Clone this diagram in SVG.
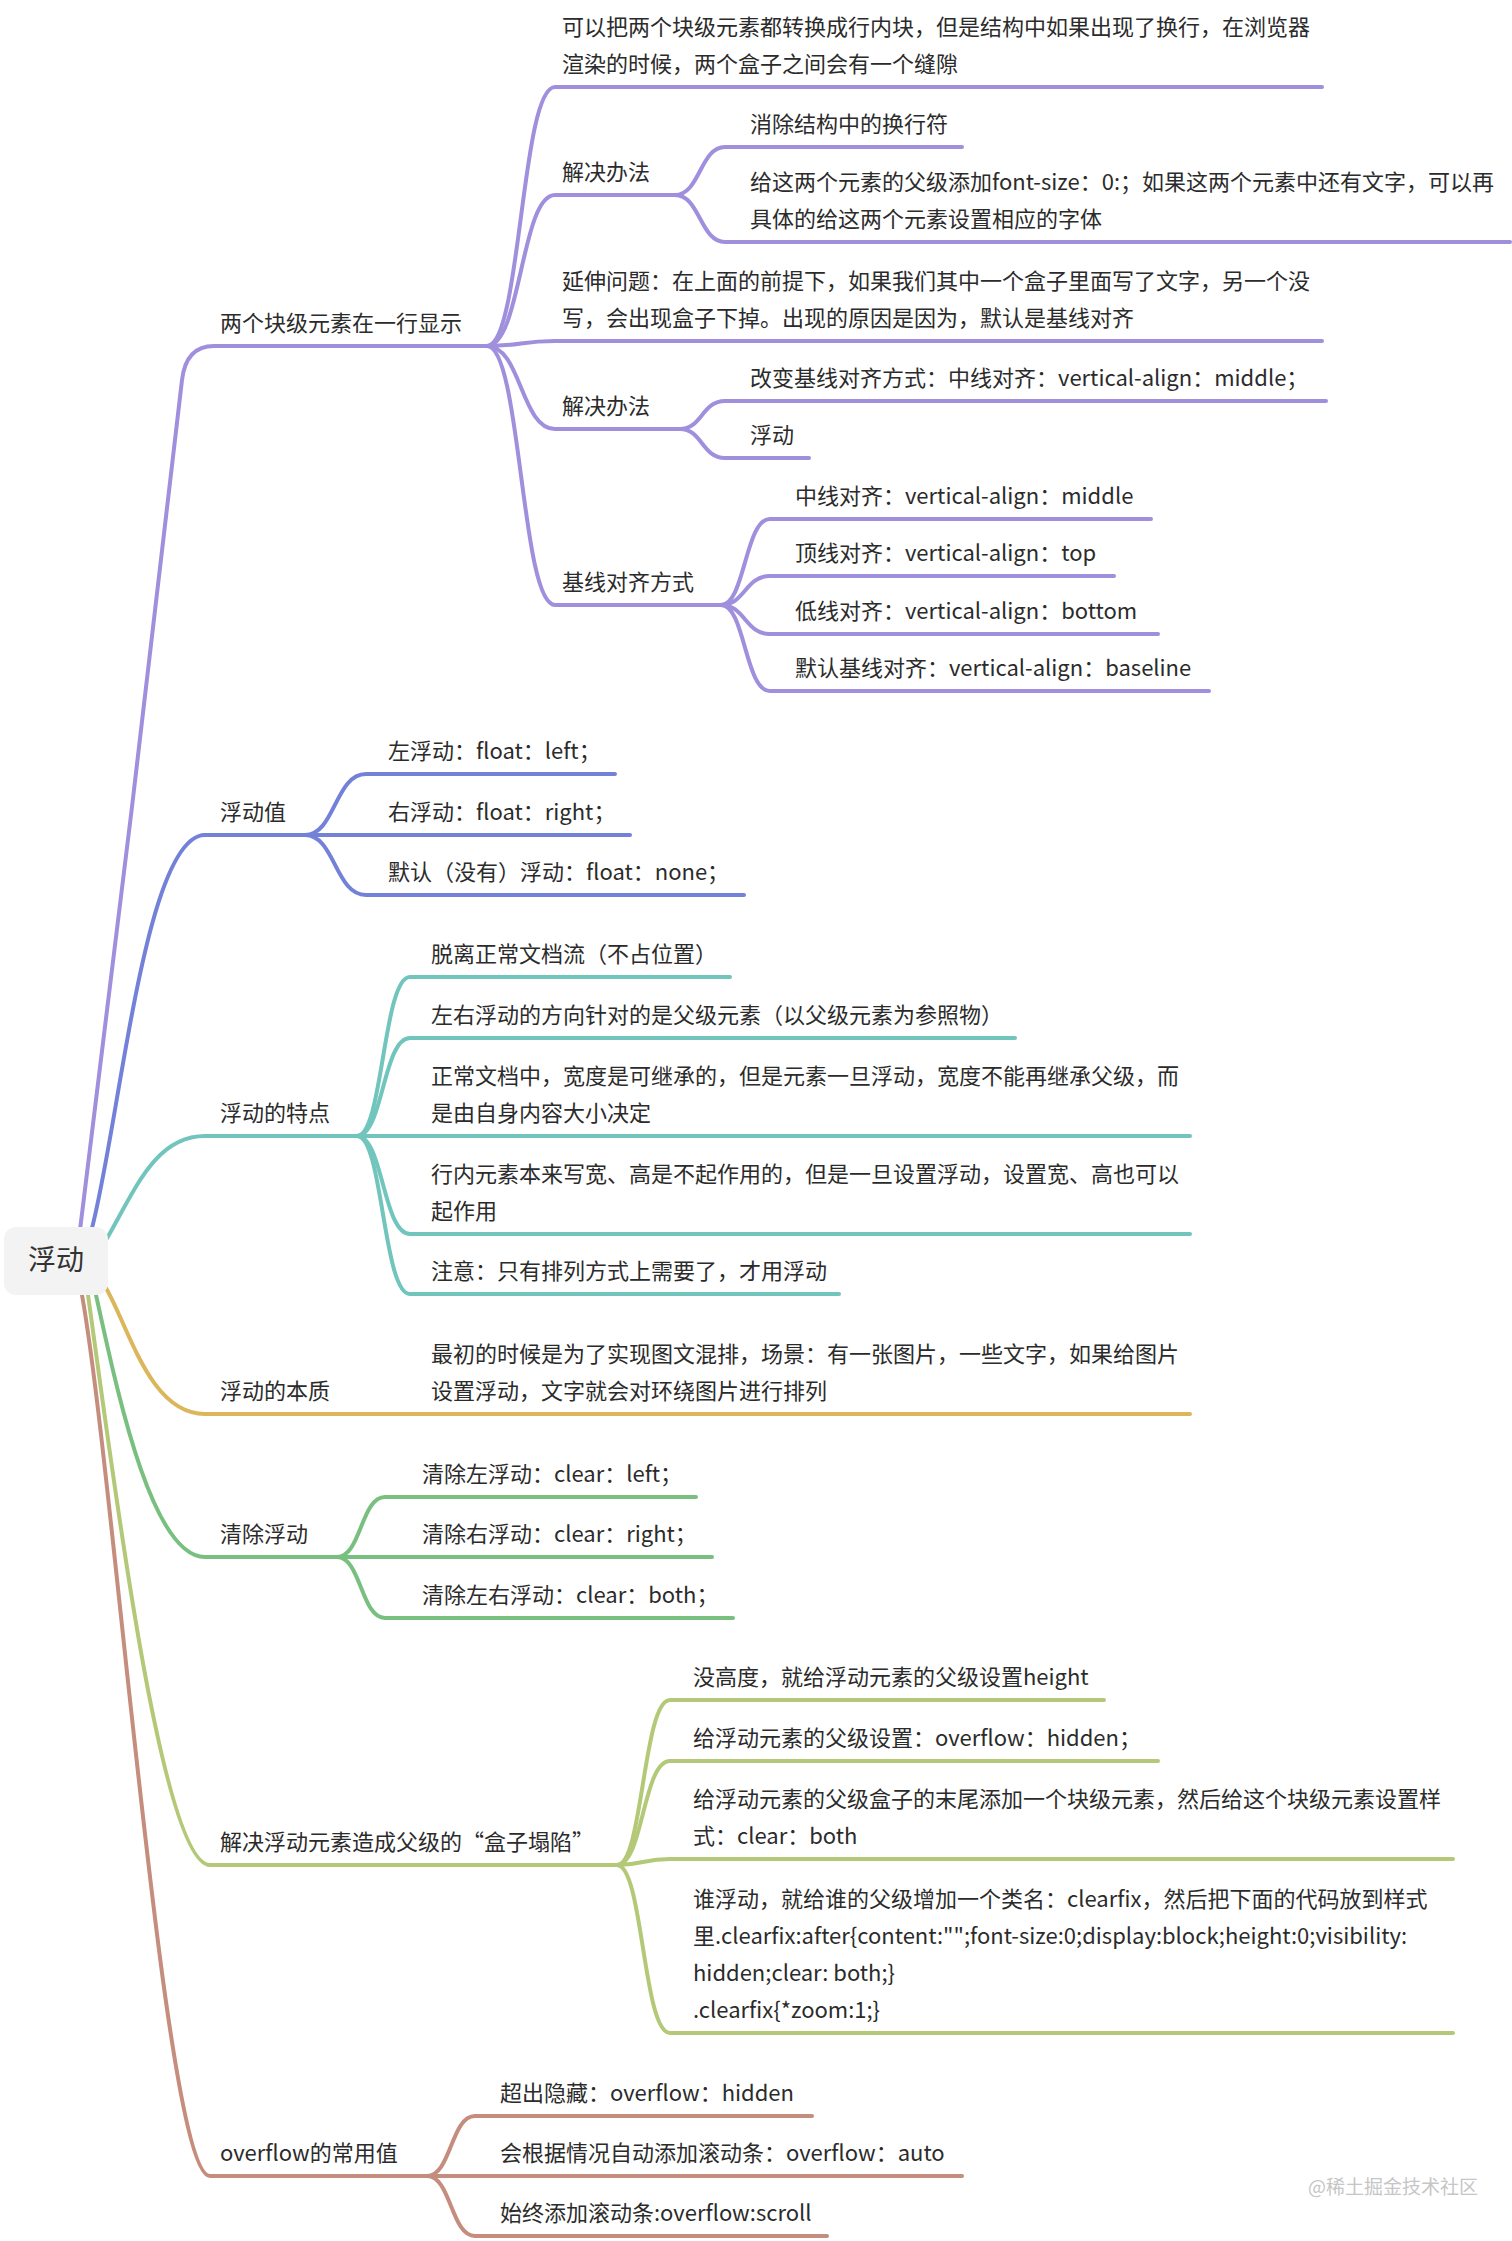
<svg xmlns="http://www.w3.org/2000/svg" width="1512" height="2241" viewBox="0 0 1512 2241">
<style>
.t{font-family:'Noto Sans CJK SC','Microsoft YaHei',sans-serif;font-size:22px;fill:#2b2b2b}
.root{font-family:'Noto Sans CJK SC','Microsoft YaHei',sans-serif;font-size:28px;fill:#333}
.wm{font-family:'Noto Sans CJK SC',sans-serif;font-size:19px;fill:#c6c6c6}
path{fill:none;stroke-width:4;stroke-linecap:round;stroke-linejoin:round}
.c1{stroke:#9f8fdd}.c2{stroke:#7481d9}.c3{stroke:#71c5bd}.c4{stroke:#dbb65a}
.c5{stroke:#79c080}.c6{stroke:#b3c977}.c7{stroke:#c58d7d}
</style>
<rect width="1512" height="2241" fill="#fff"/>
<g id="connectors">
<g class="c1">
<path d="M80,1230 C92,1150 178,420 182,380 Q186,346 214,346 L487,346"/>
<path d="M487,346 C521,346 521,87 555,87 L1322,87"/>
<path d="M487,346 C521,346 521,195 555,195 L675,195"/>
<path d="M487,346 C521,346 521,341 555,341 L1322,341"/>
<path d="M487,346 C521,346 521,429 555,429 L680,429"/>
<path d="M487,346 C521,346 521,605 555,605 L721,605"/>
<path d="M675,195 C700,195 700,147 725,147 L962,147"/>
<path d="M675,195 C700,195 700,242 725,242 L1510,242"/>
<path d="M680,429 C702,429 702,401 725,401 L1326,401"/>
<path d="M680,429 C702,429 702,458 725,458 L809,458"/>
<path d="M721,605 C745,605 745,519 770,519 L1151,519"/>
<path d="M721,605 C745,605 745,576 770,576 L1114,576"/>
<path d="M721,605 C745,605 745,634 770,634 L1158,634"/>
<path d="M721,605 C745,605 745,691 770,691 L1209,691"/>
</g>
<g class="c2">
<path d="M92,1228 C120,1120 145,835 205,835 L305,835"/>
<path d="M305,835 C335,835 335,774 366,774 L615,774"/>
<path d="M305,835 L630,835"/>
<path d="M305,835 C335,835 335,895 366,895 L744,895"/>
</g>
<g class="c3">
<path d="M106,1240 C135,1190 155,1136 205,1136 L357,1136"/>
<path d="M357,1136 C383,1136 383,977 410,977 L730,977"/>
<path d="M357,1136 C383,1136 383,1038 410,1038 L1015,1038"/>
<path d="M357,1136 L1190,1136"/>
<path d="M357,1136 C383,1136 383,1234 410,1234 L1190,1234"/>
<path d="M357,1136 C383,1136 383,1294 410,1294 L839,1294"/>
</g>
<g class="c4">
<path d="M106,1288 C130,1330 150,1414 205,1414 L1190,1414"/>
</g>
<g class="c5">
<path d="M96,1295 C115,1380 150,1557 205,1557 L337,1557"/>
<path d="M337,1557 C361,1557 361,1497 385,1497 L696,1497"/>
<path d="M337,1557 L712,1557"/>
<path d="M337,1557 C361,1557 361,1618 385,1618 L733,1618"/>
</g>
<g class="c6">
<path d="M88,1295 C110,1450 160,1865 210,1865 L617,1865"/>
<path d="M617,1865 C643,1865 643,1700 670,1700 L1104,1700"/>
<path d="M617,1865 C643,1865 643,1761 670,1761 L1158,1761"/>
<path d="M617,1865 C643,1865 643,1859 670,1859 L1453,1859"/>
<path d="M617,1865 C643,1865 643,2033 670,2033 L1453,2033"/>
</g>
<g class="c7">
<path d="M82,1295 C115,1480 165,2176 210,2176 L427,2176"/>
<path d="M427,2176 C451,2176 451,2116 475,2116 L812,2116"/>
<path d="M427,2176 L962,2176"/>
<path d="M427,2176 C451,2176 451,2236 475,2236 L827,2236"/>
</g>
</g>
<g id="root">
<rect x="4" y="1227" width="104" height="68" rx="12" fill="#f3f3f3"/>
<text class="root" x="56" y="1270" text-anchor="middle">浮动</text>
</g>
<g id="b1"><text class="t" x="220" y="331">两个块级元素在一行显示</text></g>
<g id="b1a"><text class="t" x="562" y="35">可以把两个块级元素都转换成行内块，但是结构中如果出现了换行，在浏览器</text><text class="t" x="562" y="72">渲染的时候，两个盒子之间会有一个缝隙</text></g>
<g id="b1b"><text class="t" x="562" y="180">解决办法</text></g>
<g id="b1b1"><text class="t" x="750" y="132">消除结构中的换行符</text></g>
<g id="b1b2"><text class="t" x="750" y="190">给这两个元素的父级添加font-size：0:；如果这两个元素中还有文字，可以再</text><text class="t" x="750" y="227">具体的给这两个元素设置相应的字体</text></g>
<g id="b1c"><text class="t" x="562" y="289">延伸问题：在上面的前提下，如果我们其中一个盒子里面写了文字，另一个没</text><text class="t" x="562" y="326">写，会出现盒子下掉。出现的原因是因为，默认是基线对齐</text></g>
<g id="b1d"><text class="t" x="562" y="414">解决办法</text></g>
<g id="b1d1"><text class="t" x="750" y="386">改变基线对齐方式：中线对齐：vertical-align：middle；</text></g>
<g id="b1d2"><text class="t" x="750" y="443">浮动</text></g>
<g id="b1e"><text class="t" x="562" y="590">基线对齐方式</text></g>
<g id="b1e1"><text class="t" x="795" y="504">中线对齐：vertical-align：middle</text></g>
<g id="b1e2"><text class="t" x="795" y="561">顶线对齐：vertical-align：top</text></g>
<g id="b1e3"><text class="t" x="795" y="619">低线对齐：vertical-align：bottom</text></g>
<g id="b1e4"><text class="t" x="795" y="676">默认基线对齐：vertical-align：baseline</text></g>
<g id="b2"><text class="t" x="220" y="820">浮动值</text></g>
<g id="b2a"><text class="t" x="388" y="759">左浮动：float：left；</text></g>
<g id="b2b"><text class="t" x="388" y="820">右浮动：float：right；</text></g>
<g id="b2c"><text class="t" x="388" y="880">默认（没有）浮动：float：none；</text></g>
<g id="b3"><text class="t" x="220" y="1121">浮动的特点</text></g>
<g id="b3a"><text class="t" x="431" y="962">脱离正常文档流（不占位置）</text></g>
<g id="b3b"><text class="t" x="431" y="1023">左右浮动的方向针对的是父级元素（以父级元素为参照物）</text></g>
<g id="b3c"><text class="t" x="431" y="1084">正常文档中，宽度是可继承的，但是元素一旦浮动，宽度不能再继承父级，而</text><text class="t" x="431" y="1121">是由自身内容大小决定</text></g>
<g id="b3d"><text class="t" x="431" y="1182">行内元素本来写宽、高是不起作用的，但是一旦设置浮动，设置宽、高也可以</text><text class="t" x="431" y="1219">起作用</text></g>
<g id="b3e"><text class="t" x="431" y="1279">注意：只有排列方式上需要了，才用浮动</text></g>
<g id="b4"><text class="t" x="220" y="1399">浮动的本质</text></g>
<g id="b4a"><text class="t" x="431" y="1362">最初的时候是为了实现图文混排，场景：有一张图片，一些文字，如果给图片</text><text class="t" x="431" y="1399">设置浮动，文字就会对环绕图片进行排列</text></g>
<g id="b5"><text class="t" x="220" y="1542">清除浮动</text></g>
<g id="b5a"><text class="t" x="422" y="1482">清除左浮动：clear：left；</text></g>
<g id="b5b"><text class="t" x="422" y="1542">清除右浮动：clear：right；</text></g>
<g id="b5c"><text class="t" x="422" y="1603">清除左右浮动：clear：both；</text></g>
<g id="b6"><text class="t" x="220" y="1850">解决浮动元素造成父级的“盒子塌陷”</text></g>
<g id="b6a"><text class="t" x="693" y="1685">没高度，就给浮动元素的父级设置height</text></g>
<g id="b6b"><text class="t" x="693" y="1746">给浮动元素的父级设置：overflow：hidden；</text></g>
<g id="b6c"><text class="t" x="693" y="1807">给浮动元素的父级盒子的末尾添加一个块级元素，然后给这个块级元素设置样</text><text class="t" x="693" y="1844">式：clear：both</text></g>
<g id="b6d"><text class="t" x="693" y="1907">谁浮动，就给谁的父级增加一个类名：clearfix，然后把下面的代码放到样式</text><text class="t" x="693" y="1944">里.clearfix:after{content:"";font-size:0;display:block;height:0;visibility:</text><text class="t" x="693" y="1981">hidden;clear: both;}</text><text class="t" x="693" y="2018">.clearfix{*zoom:1;}</text></g>
<g id="b7"><text class="t" x="220" y="2161">overflow的常用值</text></g>
<g id="b7a"><text class="t" x="500" y="2101">超出隐藏：overflow：hidden</text></g>
<g id="b7b"><text class="t" x="500" y="2161">会根据情况自动添加滚动条：overflow：auto</text></g>
<g id="b7c"><text class="t" x="500" y="2221">始终添加滚动条:overflow:scroll</text></g>
<text class="wm" x="1308" y="2194">@稀土掘金技术社区</text>
</svg>
